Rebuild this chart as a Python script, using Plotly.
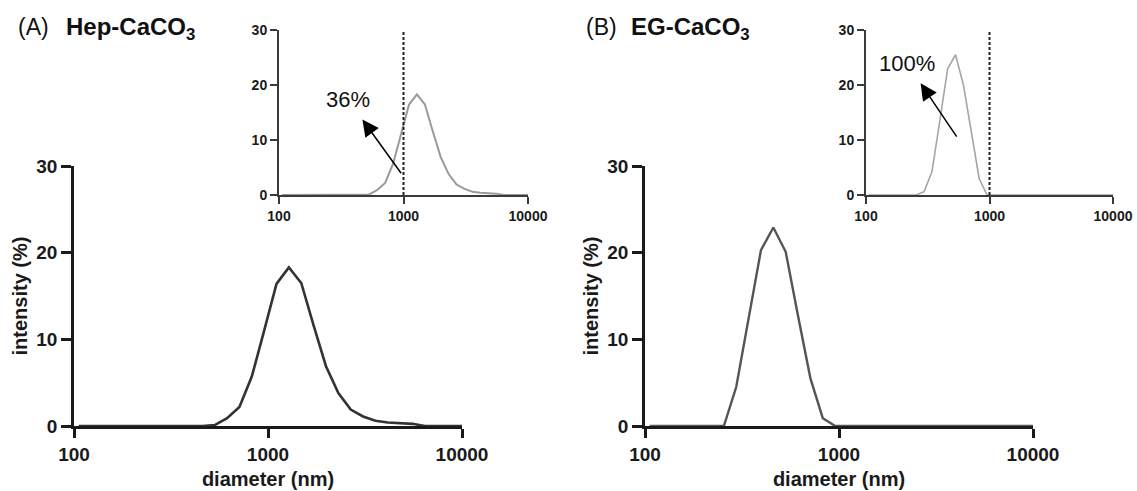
import plotly.graph_objects as go

# ---------------- data ----------------
diameter_nm = [105.7, 122.4, 141.8, 164.2, 190.1, 220.2, 255.0, 295.3, 342.0, 396.1,
               458.7, 531.2, 615.1, 712.4, 825.0, 955.4, 1106, 1281, 1484, 1718,
               1990, 2305, 2669, 3091, 3580, 4145, 4801, 5560, 6439, 7456, 8635, 10000]

hep_intensity = [0, 0, 0, 0, 0, 0, 0, 0, 0, 0,
                 0, 0.1, 0.9, 2.2, 5.7, 11.0, 16.4, 18.3, 16.5, 11.6,
                 6.9, 3.8, 1.9, 1.1, 0.6, 0.4, 0.3, 0.25, 0, 0, 0, 0]

eg_intensity = [0, 0, 0, 0, 0, 0, 0, 4.5, 12.3, 20.3,
                22.9, 20.1, 12.7, 5.5, 0.9, 0, 0, 0, 0, 0,
                0, 0, 0, 0, 0, 0, 0, 0, 0, 0, 0, 0]

eg_inset_intensity = [0, 0, 0, 0, 0, 0, 0, 0.6, 4.2, 13.5,
                      23.0, 25.5, 20.0, 11.5, 3.0, 0, 0, 0, 0, 0,
                      0, 0, 0, 0, 0, 0, 0, 0, 0, 0, 0, 0]

cutoff_nm = [1000, 1000]
cutoff_y = [0, 30]

x_tickvals = [100, 1000, 10000]
x_ticktext = ["100", "1000", "10000"]
y_tickvals = [0, 10, 20, 30]

panel_labels = ["(A)", "(B)"]
panel_names = ["Hep-CaCO<sub>3</sub>", "EG-CaCO<sub>3</sub>"]
pct_labels = ["36%", "100%"]

# ---------------- layout geometry (pixels) ----------------
W, H = 1137, 491
FONT = "Arial, Liberation Sans, sans-serif"


def xdom(l, r):
    return [l / W, r / W]


def ydom(top, bottom):
    return [1 - bottom / H, 1 - top / H]


fig = go.Figure()

# main A
fig.add_trace(go.Scatter(x=diameter_nm, y=hep_intensity, mode="lines",
                         line=dict(color="#333333", width=2.6), xaxis="x", yaxis="y",
                         showlegend=False))
# main B
fig.add_trace(go.Scatter(x=diameter_nm, y=eg_intensity, mode="lines",
                         line=dict(color="#555555", width=2.4), xaxis="x2", yaxis="y2",
                         showlegend=False))
# inset A
fig.add_trace(go.Scatter(x=diameter_nm, y=hep_intensity, mode="lines",
                         line=dict(color="#9a9a9a", width=2), xaxis="x3", yaxis="y3",
                         showlegend=False))
fig.add_trace(go.Scatter(x=cutoff_nm, y=cutoff_y, mode="lines",
                         line=dict(color="#222222", width=2, dash="3px,2px"),
                         xaxis="x3", yaxis="y3", showlegend=False))
# inset B
fig.add_trace(go.Scatter(x=diameter_nm, y=eg_inset_intensity, mode="lines",
                         line=dict(color="#a5a5a5", width=1.6), xaxis="x4", yaxis="y4",
                         showlegend=False))
fig.add_trace(go.Scatter(x=cutoff_nm, y=cutoff_y, mode="lines",
                         line=dict(color="#222222", width=2, dash="3px,2px"),
                         xaxis="x4", yaxis="y4", showlegend=False))


def main_x(dom, anchor):
    return dict(domain=dom, anchor=anchor, type="log", range=[2, 4], automargin=False,
                tickvals=x_tickvals, ticktext=x_ticktext,
                showline=True, linecolor="#1a1a1a", linewidth=2.6,
                ticks="outside", ticklen=9, tickwidth=2.6, tickcolor="#1a1a1a",
                showgrid=False, zeroline=False,
                tickfont=dict(family=FONT, size=19, color="#1a1a1a", weight="bold"),
                title=dict(text="diameter (nm)", standoff=9,
                           font=dict(family=FONT, size=20, color="#1a1a1a", weight="bold")))


def main_y(dom, anchor):
    return dict(domain=dom, anchor=anchor, range=[0, 30], tickvals=y_tickvals, automargin=False,
                showline=True, linecolor="#1a1a1a", linewidth=2.6,
                ticks="outside", ticklen=10, tickwidth=2.6, tickcolor="#1a1a1a",
                showgrid=False, zeroline=False,
                tickfont=dict(family=FONT, size=19, color="#1a1a1a", weight="bold"),
                title=dict(text="intensity (%)", standoff=4,
                           font=dict(family=FONT, size=20, color="#1a1a1a", weight="bold")))


def inset_x(dom, anchor):
    return dict(domain=dom, anchor=anchor, type="log", range=[2, 4], automargin=False,
                tickvals=x_tickvals, ticktext=x_ticktext,
                showline=True, linecolor="#3a3a3a", linewidth=2,
                ticks="outside", ticklen=7, tickwidth=2, tickcolor="#3a3a3a",
                showgrid=False, zeroline=False,
                tickfont=dict(family=FONT, size=14, color="#1a1a1a", weight="bold"))


def inset_y(dom, anchor):
    return dict(domain=dom, anchor=anchor, range=[0, 30], tickvals=y_tickvals, automargin=False,
                showline=True, linecolor="#3a3a3a", linewidth=2,
                ticks="outside", ticklen=7, tickwidth=2, tickcolor="#3a3a3a",
                showgrid=False, zeroline=False,
                tickfont=dict(family=FONT, size=14, color="#1a1a1a", weight="bold"))


main_ydom = ydom(166, 426)
inset_ydom = ydom(30, 195)

fig.update_layout(
    width=W, height=H, autosize=False,
    margin=dict(l=0, r=0, t=0, b=0, pad=0, autoexpand=False),
    paper_bgcolor="white", plot_bgcolor="rgba(0,0,0,0)",
    font=dict(family=FONT, color="#1a1a1a"),
    xaxis=main_x(xdom(74, 462), "y"),
    yaxis=main_y(main_ydom, "x"),
    xaxis2=main_x(xdom(645, 1033), "y2"),
    yaxis2=main_y(main_ydom, "x2"),
    xaxis3=inset_x(xdom(279, 528), "y3"),
    yaxis3=inset_y(inset_ydom, "x3"),
    xaxis4=inset_x(xdom(866, 1113), "y4"),
    yaxis4=inset_y(inset_ydom, "x4"),
)

annotations = []
# panel titles
for lab_x, name_x, lab, name in [(16, 64, panel_labels[0], panel_names[0]),
                                  (584, 629, panel_labels[1], panel_names[1])]:
    annotations.append(dict(xref="paper", yref="paper", x=lab_x / W, y=1 - 27 / H,
                            xanchor="left", yanchor="middle", showarrow=False,
                            text=lab, font=dict(family=FONT, size=23, color="#111111")))
    annotations.append(dict(xref="paper", yref="paper", x=name_x / W, y=1 - 28 / H,
                            xanchor="left", yanchor="middle", showarrow=False,
                            text="<b>" + name + "</b>",
                            font=dict(family=FONT, size=24, color="#111111")))

# percentage labels with arrows pointing from the curve toward the label
# (values in log10 diameter units / intensity units of the inset axes)
arrow_specs = [
    # xref, yref, tail near curve (logx, y), label centre (logx, y), label
    ("x3", "y3", (2.981, 3.95), (2.556, 17.3), pct_labels[0]),
    ("x4", "y4", (2.734, 10.6), (2.334, 23.9), pct_labels[1]),
]
for xr, yr, tail, txt, lab in arrow_specs:
    annotations.append(dict(xref=xr, yref=yr, x=tail[0], y=tail[1],
                            axref=xr, ayref=yr, ax=txt[0], ay=txt[1],
                            text=lab, showarrow=True, arrowside="start",
                            arrowhead=2, startarrowhead=2, startarrowsize=2.2, arrowsize=2.2,
                            arrowwidth=1.5, arrowcolor="#000000",
                            standoff=0, startstandoff=7,
                            font=dict(family=FONT, size=22, color="#111111")))

fig.update_layout(annotations=annotations)

fig.write_html("out.html")
